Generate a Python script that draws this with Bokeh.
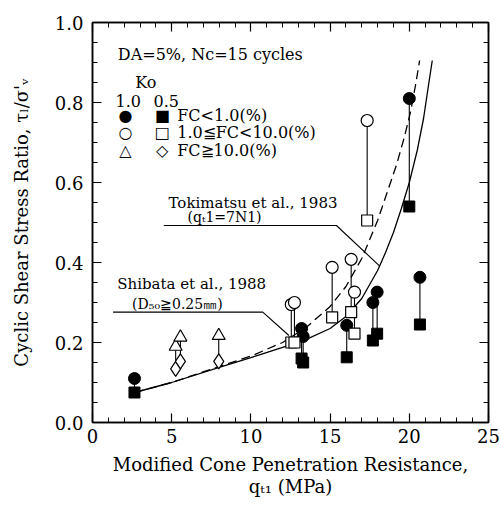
import numpy as np
from bokeh.plotting import figure
from bokeh.models import Range1d, LinearAxis, FixedTicker, Label
from bokeh.embed import file_html
from bokeh.resources import INLINE

# ---------------- data ----------------
# FC < 1.0 %  (filled symbols): Ko=1.0 circles, Ko=0.5 squares
fc1_q    = [2.65, 13.2, 13.3, 16.05, 17.7, 17.97, 20.0, 20.67]
fc1_ko10 = [0.11, 0.235, 0.215, 0.243, 0.30, 0.326, 0.81, 0.363]
fc1_ko05 = [0.075, 0.16, 0.15, 0.163, 0.205, 0.222, 0.54, 0.245]

# 1.0 <= FC < 10.0 %  (open circles / open squares)
fc2_q    = [12.55, 12.75, 15.13, 16.33, 16.54, 17.34]
fc2_ko10 = [0.295, 0.30, 0.388, 0.408, 0.326, 0.755]
fc2_ko05 = [0.20, 0.20, 0.263, 0.276, 0.222, 0.505]

# FC >= 10.0 %  (triangles / diamonds)
fc3_q    = [5.25, 5.55, 7.97]
fc3_ko10 = [0.19, 0.213, 0.217]
fc3_ko05 = [0.134, 0.153, 0.153]

# Tokimatsu et al., 1983 (solid)
toki_q = [2.65, 5.0, 8.0, 10.0, 12.0, 13.5, 15.0, 16.0, 17.0, 18.0, 18.5,
          19.0, 19.5, 20.0, 20.5, 20.9, 21.2, 21.45]
toki_r = [0.075, 0.10, 0.138, 0.162, 0.188, 0.208, 0.235, 0.265, 0.31, 0.38,
          0.425, 0.475, 0.535, 0.60, 0.68, 0.76, 0.84, 0.905]
# Shibata et al., 1988 (dashed)
shib_q = [2.65, 5.0, 8.0, 10.0, 12.0, 13.5, 15.0, 16.0, 17.0, 18.0, 18.6,
          19.2, 19.7, 20.1, 20.4, 20.65]
shib_r = [0.075, 0.10, 0.14, 0.166, 0.2, 0.238, 0.29, 0.34, 0.41, 0.505, 0.575,
          0.645, 0.715, 0.78, 0.845, 0.905]

x_ticks = [0, 5, 10, 15, 20, 25]
y_ticks = [0.0, 0.2, 0.4, 0.6, 0.8, 1.0]

SERIF = "DejaVu Serif"

p = figure(width=500, height=506, output_backend="svg", toolbar_location=None,
           x_range=Range1d(0, 25), y_range=Range1d(0, 1.0),
           min_border_left=92, min_border_right=12, min_border_top=22,
           min_border_bottom=84)
p.background_fill_color = "white"
p.border_fill_color = "white"
p.outline_line_color = "black"
p.outline_line_width = 1.5
p.grid.visible = False

minor_x = [v for v in range(0, 26) if v % 5 != 0]
minor_y = [round(0.05 * i, 2) for i in range(21) if i % 4 != 0]

def style_axis(ax):
    ax.axis_line_color = "black"
    ax.axis_line_width = 1.5
    ax.major_tick_in = 9
    ax.major_tick_out = 0
    ax.minor_tick_in = 5
    ax.minor_tick_out = 0
    ax.major_tick_line_width = 1.2
    ax.minor_tick_line_width = 1.0
    ax.major_label_text_font = SERIF
    ax.major_label_text_font_size = "18px"
    ax.major_label_text_color = "black"
    ax.axis_label_text_font = SERIF
    ax.axis_label_text_font_style = "normal"
    ax.axis_label_text_font_size = "18px"
    ax.axis_label_text_color = "black"

xa = p.xaxis[0]
xa.ticker = FixedTicker(ticks=x_ticks, minor_ticks=minor_x)
xa.major_label_overrides = {t: str(t) for t in x_ticks}
style_axis(xa)
xa.major_label_standoff = 6
xa.axis_label = "Modified Cone Penetration Resistance,\nqₜ₁ (MPa)"
xa.axis_label_text_line_height = 1.05
xa.axis_label_standoff = 8

ya = p.yaxis[0]
ya.ticker = FixedTicker(ticks=y_ticks, minor_ticks=minor_y)
ya.major_label_overrides = {t: f"{t:.1f}" for t in y_ticks}
style_axis(ya)
ya.major_label_standoff = 9
ya.axis_label = "Cyclic Shear Stress Ratio, τₗ/σ'ᵥ"
ya.axis_label_standoff = 20

top = LinearAxis(ticker=FixedTicker(ticks=x_ticks, minor_ticks=minor_x))
style_axis(top)
top.major_label_overrides = {t: "" for t in x_ticks}
p.add_layout(top, "above")
right = LinearAxis(ticker=FixedTicker(ticks=y_ticks, minor_ticks=minor_y))
style_axis(right)
right.major_label_overrides = {t: "" for t in y_ticks}
p.add_layout(right, "right")

# curves
p.line(toki_q, toki_r, line_color="black", line_width=1.3)
p.line(shib_q, shib_r, line_color="black", line_width=1.3, line_dash="9 5")

# vertical connectors
for q, a, b in [(fc1_q, fc1_ko10, fc1_ko05), (fc2_q, fc2_ko10, fc2_ko05),
                (fc3_q, fc3_ko10, fc3_ko05)]:
    p.segment(x0=q, y0=b, x1=q, y1=a, line_color="black", line_width=1.1)

# markers
p.scatter(fc1_q, fc1_ko05, marker="square", size=11, fill_color="black", line_color="black")
p.scatter(fc1_q, fc1_ko10, marker="circle", size=12, fill_color="black", line_color="black")
p.scatter(fc2_q, fc2_ko05, marker="square", size=11, fill_color="white", line_color="black", line_width=1.2)
p.scatter(fc2_q, fc2_ko10, marker="circle", size=12, fill_color="white", line_color="black", line_width=1.2)
p.scatter(fc3_q, fc3_ko05, marker="diamond", size=15, fill_color="white", line_color="black", line_width=1.2)
p.scatter(fc3_q, fc3_ko10, marker="triangle", size=13, fill_color="white", line_color="black", line_width=1.2)

# leader lines of the curve captions
p.line([4.5, 15.4, 18.1], [0.4925, 0.4925, 0.392], line_color="black", line_width=1.1)
p.line([1.3, 10.75, 12.4], [0.276, 0.276, 0.2175], line_color="black", line_width=1.1)

def txt(x, y, s, size="16px", font=SERIF, baseline="alphabetic", align="left"):
    p.add_layout(Label(x=x, y=y, text=s, text_font=font, text_font_size=size,
                       text_color="black", text_baseline=baseline, text_align=align))

txt(1.6, 0.92, "DA=5%, Nc=15 cycles")
txt(2.7, 0.85, "Ko")
txt(1.45, 0.805, "1.0")
txt(3.85, 0.805, "0.5")

rows = [(0.768, "●", "■", "FC<1.0(%)"),
        (0.724, "○", "□", "1.0≦FC<10.0(%)"),
        (0.680, "△", "◇", "FC≧10.0(%)")]
for y, s1, s2, lab in rows:
    txt(2.08, y, s1, size="16px", font="DejaVu Sans", baseline="middle", align="center")
    txt(4.4, y, s2, size="16px", font="DejaVu Sans", baseline="middle", align="center")
    txt(5.35, y, lab, baseline="middle")

txt(4.8, 0.55, "Tokimatsu et al., 1983", size="15px")
txt(6.0, 0.513, "(qₜ1=7N1)", size="14px")
txt(1.56, 0.347, "Shibata et al., 1988", size="15px")
txt(2.5, 0.297, "(D₅₀≧0.25㎜)", size="14px")

open("out.html", "w").write(file_html(p, INLINE))
